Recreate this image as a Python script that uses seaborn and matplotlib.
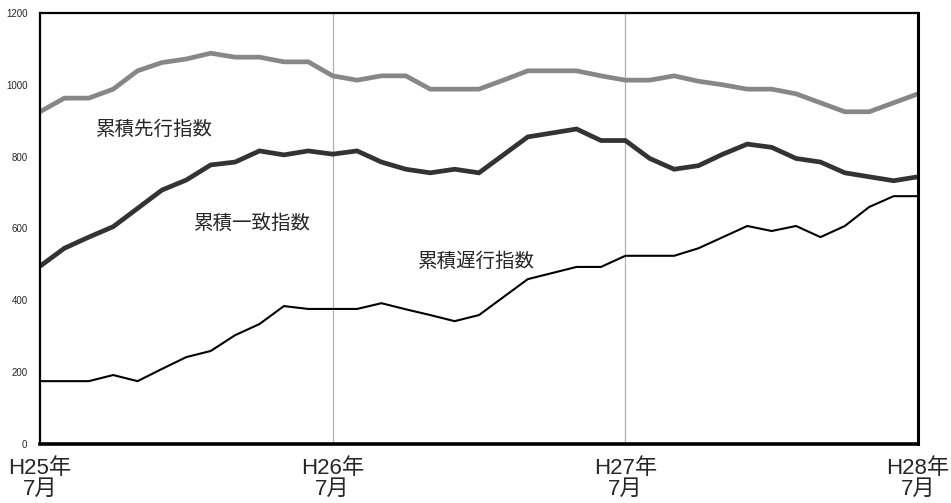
import matplotlib
matplotlib.use("Agg")
import matplotlib.pyplot as plt
import seaborn as sns
import pandas as pd
import numpy as np

months = list(range(37))
leading = [925, 963, 963, 988, 1039, 1062, 1072, 1088, 1077, 1077, 1064, 1064,
           1025, 1013, 1025, 1025, 988, 988, 988, 1013, 1039, 1039, 1039, 1025,
           1013, 1013, 1025, 1010, 1000, 988, 988, 975, 950, 925, 925, 950, 975]
coincident = [495, 545, 576, 605, 656, 707, 735, 777, 785, 816, 805, 816,
              807, 816, 785, 765, 755, 765, 755, 805, 855, 866, 877, 845,
              845, 795, 765, 775, 807, 835, 826, 795, 785, 755, 744, 733, 744]
lagging = [175, 175, 175, 192, 175, 209, 242, 259, 303, 334, 384, 376,
           376, 376, 392, 375, 359, 342, 359, 409, 459, 476, 493, 493,
           524, 524, 524, 545, 576, 607, 593, 607, 576, 607, 660, 690, 690]
series_names = ["累積先行指数", "累積一致指数", "累積遅行指数"]
tick_pos = [0, 12, 24, 36]
tick_labels = ["H25年\n7月", "H26年\n7月", "H27年\n7月", "H28年\n7月"]
y_ticks = [0, 200, 400, 600, 800, 1000, 1200]

sns.set_theme(style="white")
plt.rcParams['font.family'] = ['Liberation Sans', 'Noto Sans CJK JP', 'DejaVu Sans']

df = pd.DataFrame({
    "month": months * 3,
    "value": leading + coincident + lagging,
    "series": [series_names[0]] * 37 + [series_names[1]] * 37 + [series_names[2]] * 37,
})

fig = plt.figure(figsize=(9.51, 5.03), dpi=100)
ax = fig.add_axes([40 / 951, (503 - 444) / 503, (918 - 40) / 951, (444 - 13) / 503])

for x in [12, 24]:
    ax.axvline(x, color="#b0b0b0", lw=0.9, zorder=0)

palette = {series_names[0]: "#878787", series_names[1]: "#333333", series_names[2]: "#000000"}
sizes = {series_names[0]: 3.4, series_names[1]: 3.4, series_names[2]: 1.5}
sns.lineplot(data=df, x="month", y="value", hue="series", size="series",
             palette=palette, sizes=sizes, legend=False, ax=ax,
             solid_joinstyle="miter")

ax.set_xlim(0, 36)
ax.set_ylim(0, 1200)
ax.set_xticks(tick_pos)
ax.set_xticklabels(tick_labels, fontsize=16, linespacing=0.98)
ax.set_yticks(y_ticks)
ax.set_yticklabels([str(v) for v in y_ticks], fontsize=7)
ax.tick_params(axis="x", direction="in", length=5, width=1.5, color="black", pad=10)
ax.tick_params(axis="y", length=0, pad=9)
ax.set_xlabel("")
ax.set_ylabel("")

for side, w in [("left", 1.6), ("bottom", 2.6), ("top", 1.6), ("right", 2.2)]:
    ax.spines[side].set_visible(True)
    ax.spines[side].set_color("black")
    ax.spines[side].set_linewidth(w)

ax.text(4.7, 874, series_names[0], fontsize=14, ha="center", va="center")
ax.text(8.7, 615, series_names[1], fontsize=14, ha="center", va="center")
ax.text(17.9, 509, series_names[2], fontsize=14, ha="center", va="center")

fig.savefig("out.png", dpi=100)
